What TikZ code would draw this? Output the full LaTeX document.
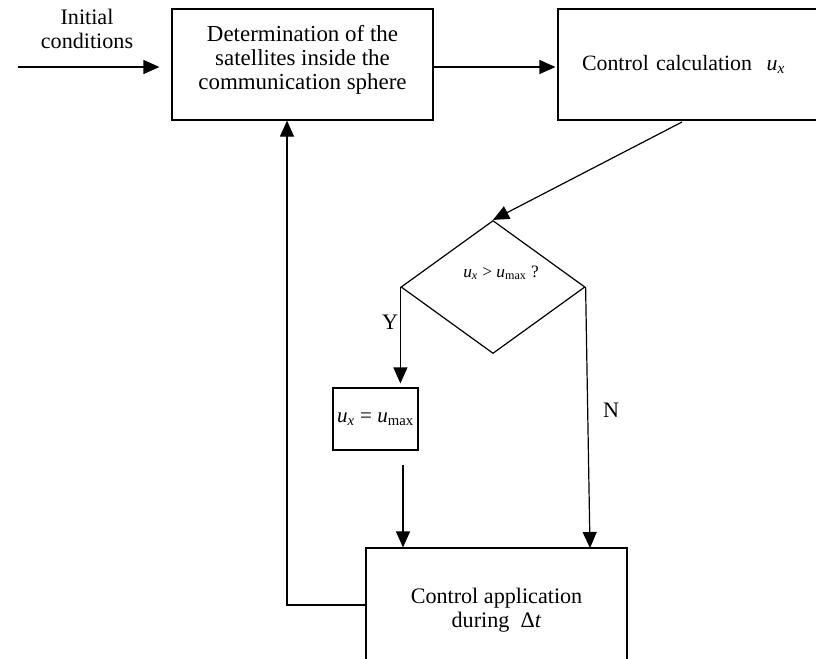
\documentclass[tikz,border=0pt]{standalone}
\usepackage{amsmath}
\usepackage{fontspec}
\setmainfont{Liberation Serif}
\usetikzlibrary{arrows.meta, positioning, shapes.geometric}

\newcommand{\uvar}[1]{$\textit{u}_{\text{#1}}$}

\begin{document}
\begin{tikzpicture}[
    x=0.75pt, y=-0.75pt,
    line width=0.9pt,
    every node/.style={font=\fontsize{16.6}{18}\selectfont},
    block/.style={rectangle, draw, align=center, inner sep=0pt},
    cond/.style={diamond, draw, aspect=1.38, inner sep=0pt, minimum width=138pt, minimum height=99.75pt},
    flow/.style={draw, -{Triangle[length=12pt, width=10.5pt]}}
  ]
  \useasboundingbox (0,0) rectangle (816,658);
  \clip (0,0) rectangle (816,658);

  \node[block, minimum width=195.75pt, minimum height=83.25pt, font=\fontsize{17.2}{18}\selectfont] (det) at (302.5,64.5)
    {Determination of the\\ satellites inside the\\ communication sphere\\[-7pt]};
  \node[block, minimum width=204pt, minimum height=83.25pt, text width=168pt, align=left, font=\fontsize{16.4}{18}\selectfont] (calc) at (694,64.5)
    {Control calculation \ \uvar{\textit{x}}};
  \node[cond] (q) at (493,287) {};
  \node[font=\fontsize{13}{14}\selectfont] (qtext) at (501,273) {\uvar{\textit{x}} > \uvar{max} ?};
  \node[block, minimum width=63.75pt, minimum height=46.5pt, font=\fontsize{15.8}{16}\selectfont] (ux) at (375.5,419)
    {\uvar{\textit{x}} = \uvar{max}};
  \node[block, minimum width=195.75pt, minimum height=93pt] (app) at (496.5,610)
    {Control application\\ during \ Δ\textit{t}};

  \node[align=center] (init) at (87,29) {Initial\\ conditions};
  \node (yes) at (390,322) {Y};
  \node (no) at (611,410) {N};

  \coordinate (ic) at (18,67);
  \coordinate (c1) at (682,122);
  \coordinate (s1) at (403,465);
  \coordinate (n1) at (590,548);
  \coordinate (fb) at (287,605);

  \draw[flow, shorten >=9pt] (ic) -- (det.west |- ic);
  \draw[flow, shorten >=1.5pt] (det.east |- ic) -- (calc.west |- ic);
  \draw[flow] (c1) -- (q.north);
  \draw[flow, shorten >=3pt] (q.west) -- (q.west |- ux.north);
  \draw[flow] (s1) -- (s1 |- app.north);
  \draw[flow] (q.east) -- (n1);
  \draw[flow] (app.west |- fb) -- (fb) -- (fb |- det.south);
\end{tikzpicture}
\end{document}
